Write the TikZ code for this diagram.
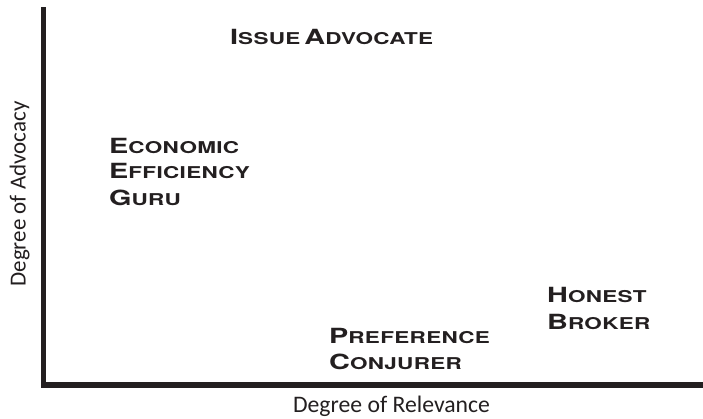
\documentclass[tikz,border=0pt]{standalone}
\usepackage{fontspec}
\setmainfont{Carlito}
\newfontfamily\plate[FakeStretch=1.38,LetterSpace=2]{TeX Gyre Heros}
\definecolor{ink}{HTML}{231F20}
% engraved-style small caps: first letter large, rest small
\newcommand{\pc}[2]{{\fontsize{20.9}{21}\selectfont #1}{\fontsize{16.3}{17}\selectfont #2}}
\tikzset{
  axisline/.style={draw=ink, line width=5.5pt, line cap=rect},
  rolelabel/.style={font=\plate\bfseries, text=ink, anchor=base west, inner sep=0pt, align=left},
  axislabel/.style={text=ink, inner sep=0pt, anchor=base}
}
\begin{document}
\begin{tikzpicture}[x=1pt,y=1pt]
\useasboundingbox (0,0) rectangle (703,-418);
\coordinate (top) at (43.3,-9.5);
\coordinate (origin) at (43.3,-385);
\coordinate (right) at (710,-385);
\draw[axisline] (top) -- (origin) -- (right);

\node[axislabel, rotate=90, font=\fontsize{23}{26}\selectfont] (yl) at (25.5,-194) {Degree of Advocacy};
\node[axislabel, font=\fontsize{23.7}{26}\selectfont] (xl) at (391.5,-412.5) {Degree of Relevance};

\node[rolelabel] (ia) at (230,-44.5) {\pc{I}{SSUE} \pc{A}{DVOCATE}};
\node[rolelabel] (eg1) at (109,-153) {\pc{E}{CONOMIC}};
\node[rolelabel] (eg2) at (109,-178) {\pc{E}{FFICIENCY}};
\node[rolelabel] (eg3) at (109,-205.5) {\pc{G}{URU}};
\node[rolelabel] (pc1) at (329,-343.5) {\pc{P}{REFERENCE}};
\node[rolelabel] (pc2) at (329,-369.5) {\pc{C}{ONJURER}};
\node[rolelabel] (hb1) at (547,-302) {\pc{H}{ONEST}};
\node[rolelabel] (hb2) at (547,-329) {\pc{B}{ROKER}};
\end{tikzpicture}
\end{document}
